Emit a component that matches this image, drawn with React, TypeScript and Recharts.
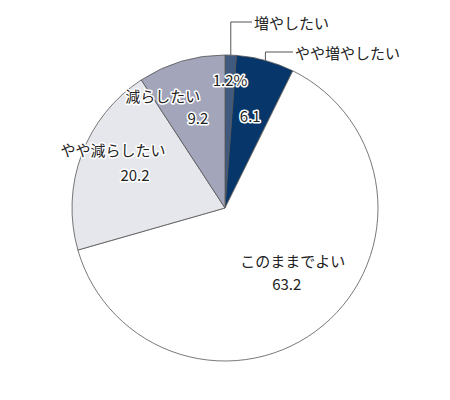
import React from "react";
import { PieChart, Pie, Cell } from "recharts";

const categories = ["増やしたい", "やや増やしたい", "このままでよい", "やや減らしたい", "減らしたい"];
const values = [1.2, 6.1, 63.2, 20.2, 9.2];
const valueLabels = ["1.2%", "6.1", "63.2", "20.2", "9.2"];

const COLORS = ["#3f5a7e", "#06366a", "#ffffff", "#e6e7ec", "#a3a6bb"];
const data = categories.map((name, i) => ({ name, value: values[i] }));

// label layout: offsets from 0.6*R centroid
const NAME_OFF: ({ dx: number; dy: number } | null)[] = [
  null,
  null,
  { dx: 9, dy: -18 },
  { dx: -26, dy: -26 },
  { dx: -36, dy: -25 },
];
const VALUE_OFF = [
  { dx: 1.5, dy: -37 },
  { dx: 1, dy: -4 },
  { dx: 3, dy: 5 },
  { dx: -4, dy: -1 },
  { dx: -1, dy: -3 },
];
// outer leader labels for small slices: [elbow y, end x]
const OUTER: ({ ey: number; ex: number } | null)[] = [
  { ey: 14, ex: 244 },
  { ey: 44, ex: 285 },
  null,
  null,
  null,
];

const FONT = "'Noto Sans CJK JP', 'Noto Sans', sans-serif";
const RAD = Math.PI / 180;

const haloText = (x: number, y: number, s: string, key: string) => (
  <text
    key={key}
    x={x}
    y={y}
    textAnchor="middle"
    dominantBaseline="central"
    fontFamily={FONT}
    fontSize={15}
    fill="#222"
    stroke="#fff"
    strokeWidth={3}
    strokeLinejoin="round"
    style={{ paintOrder: "stroke" }}
  >
    {s}
  </text>
);

const renderLabel = (props: any) => {
  const { cx, cy, midAngle, outerRadius, index } = props;
  const r = outerRadius * 0.6;
  const bx = cx + r * Math.cos(-midAngle * RAD);
  const by = cy + r * Math.sin(-midAngle * RAD);
  const parts: React.ReactNode[] = [];
  const o = OUTER[index];
  if (o) {
    const px = cx + outerRadius * Math.cos(-midAngle * RAD);
    const py = cy + outerRadius * Math.sin(-midAngle * RAD);
    parts.push(
      <polyline
        key="l"
        points={`${px},${py} ${px},${o.ey} ${o.ex},${o.ey}`}
        fill="none"
        stroke="#555"
        strokeWidth={1}
      />
    );
    parts.push(
      <text
        key="o"
        x={o.ex + 2}
        y={o.ey}
        textAnchor="start"
        dominantBaseline="central"
        fontFamily={FONT}
        fontSize={15}
        fill="#222"
      >
        {categories[index]}
      </text>
    );
  }
  const n = NAME_OFF[index];
  if (n) parts.push(haloText(bx + n.dx, by + n.dy, categories[index], "n"));
  const v = VALUE_OFF[index];
  parts.push(haloText(bx + v.dx, by + v.dy, valueLabels[index], "v"));
  return <g>{parts}</g>;
};

export default function App() {
  return (
    <div style={{ width: 450, height: 400 }}>
      <PieChart width={450} height={400}>
        <Pie
          data={data}
          dataKey="value"
          nameKey="name"
          cx={212}
          cy={195}
          outerRadius={153}
          startAngle={90}
          endAngle={-270}
          stroke="#555"
          strokeWidth={0.8}
          label={renderLabel}
          labelLine={false}
          isAnimationActive={false}
        >
          {data.map((d, i) => (
            <Cell key={d.name} fill={COLORS[i]} />
          ))}
        </Pie>
      </PieChart>
    </div>
  );
}
